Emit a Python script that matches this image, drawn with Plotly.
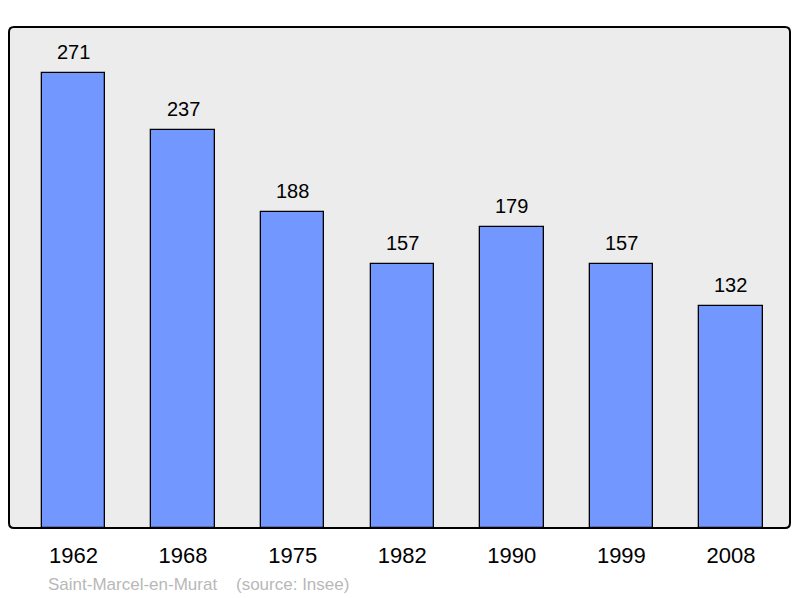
import plotly.graph_objects as go

years = ["1962", "1968", "1975", "1982", "1990", "1999", "2008"]
population = [271, 237, 188, 157, 179, 157, 132]
source_text = "Saint-Marcel-en-Murat    (source: Insee)"

# page body adds an 8px margin, so the figure is sized to fill the rest
W, H = 792, 590
L, R, T, B = 1, 10, 19, 70
PW, PH = W - L - R, H - T - B
FONT = "Liberation Sans, Arial, sans-serif"

fig = go.Figure()
fig.add_trace(go.Bar(
    x=list(range(len(years))),
    y=population,
    width=0.579,
    marker=dict(color="#7298ff", line=dict(color="#000000", width=1.3)),
    hoverinfo="skip",
))

annotations = [dict(
    x=i, y=v, xref="x", yref="y", text=str(v), showarrow=False,
    yanchor="middle", yshift=21,
    font=dict(family=FONT, size=20, color="#000000"),
) for i, v in enumerate(population)]

annotations.append(dict(
    text=source_text, xref="paper", yref="paper",
    x=(38 - L) / PW, y=-(576 - (H - B)) / PH,
    xanchor="left", yanchor="middle", showarrow=False,
    font=dict(family=FONT, size=17, color="#b8b8b8"),
))

# rounded border frame
rx, ry = 5 / PW, 5 / PH
path = (f"M {rx},0 L {1-rx},0 Q 1,0 1,{ry} L 1,{1-ry} Q 1,1 {1-rx},1 "
        f"L {rx},1 Q 0,1 0,{1-ry} L 0,{ry} Q 0,0 {rx},0 Z")

fig.update_layout(
    width=W, height=H,
    margin=dict(l=L, r=R, t=T, b=B),
    paper_bgcolor="#ffffff",
    plot_bgcolor="#ececec",
    showlegend=False,
    bargap=0,
    xaxis=dict(
        range=[-0.5886, 6.539],
        tickmode="array",
        tickvals=list(range(len(years))),
        ticktext=years,
        ticks="outside", ticklen=8, tickcolor="rgba(0,0,0,0)",
        tickfont=dict(family=FONT, size=22, color="#000000"),
        showgrid=False, zeroline=False, showline=False,
        fixedrange=True,
    ),
    yaxis=dict(
        range=[0, 298.4],
        showticklabels=False, showgrid=False, zeroline=False, showline=False,
        fixedrange=True,
    ),
    shapes=[dict(
        type="path", xref="paper", yref="paper", path=path,
        line=dict(color="#000000", width=2), fillcolor="rgba(0,0,0,0)", layer="above",
    )],
    annotations=annotations,
)

fig.write_html("out.html")
